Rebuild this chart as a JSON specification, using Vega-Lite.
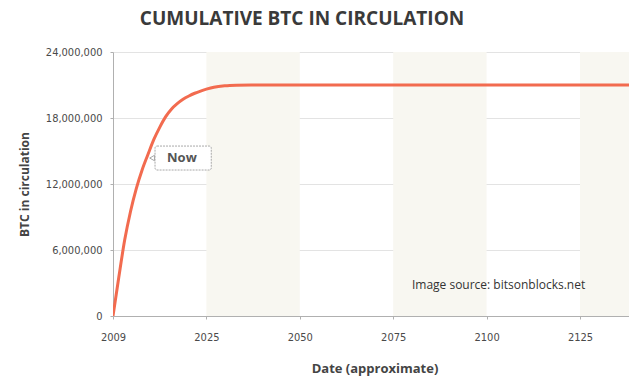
{
  "$schema": "https://vega.github.io/schema/vega-lite/v6.json",
  "autosize": "none",
  "width": 516,
  "height": 264,
  "padding": {"left": 113, "top": 52, "right": 0, "bottom": 63},
  "background": "white",
  "title": {
    "text": "CUMULATIVE BTC IN CIRCULATION",
    "fontSize": 19,
    "fontWeight": "bold",
    "font": "Open Sans",
    "color": "#3a3a3a",
    "anchor": "middle",
    "frame": "group",
    "dx": -69,
    "offset": 17
  },
  "config": {
    "view": {"stroke": null},
    "axis": {
      "labelFont": "Liberation Sans Narrow, DejaVu Sans Condensed, Roboto Condensed, sans-serif",
      "labelFontSize": 11,
      "labelColor": "#4a4a4a",
      "titleFont": "Open Sans",
      "titleColor": "#444444",
      "titleFontWeight": "bold",
      "domainColor": "#b0b0b0",
      "tickColor": "#b0b0b0",
      "tickSize": 3
    }
  },
  "datasets": {
    "supply": [
      {"year": 2009, "btc": 0},
      {"year": 2010, "btc": 3550000},
      {"year": 2011, "btc": 6900000},
      {"year": 2012, "btc": 9500000},
      {"year": 2013, "btc": 11600000},
      {"year": 2014, "btc": 13300000},
      {"year": 2015, "btc": 14700000},
      {"year": 2016, "btc": 16050000},
      {"year": 2017, "btc": 17150000},
      {"year": 2018, "btc": 18100000},
      {"year": 2019, "btc": 18800000},
      {"year": 2020, "btc": 19300000},
      {"year": 2021, "btc": 19700000},
      {"year": 2022, "btc": 20000000},
      {"year": 2023, "btc": 20250000},
      {"year": 2024, "btc": 20450000},
      {"year": 2025, "btc": 20620000},
      {"year": 2027, "btc": 20800000},
      {"year": 2030, "btc": 20930000},
      {"year": 2033, "btc": 20980000},
      {"year": 2037, "btc": 21000000},
      {"year": 2060, "btc": 21000000},
      {"year": 2080, "btc": 21000000},
      {"year": 2100, "btc": 21000000},
      {"year": 2120, "btc": 21000000},
      {"year": 2140, "btc": 21000000}
    ],
    "bands": [
      {"start": 2025, "end": 2050},
      {"start": 2075, "end": 2100},
      {"start": 2125, "end": 2140}
    ],
    "callout": [
      {"x1": 2016.2, "x2": 2026.3, "y1": 15450000, "y2": 13270000, "px": 2015.7, "py": 14360000, "tx": 2020.8, "ty": 14360000, "label": "Now"}
    ],
    "source": [
      {"year": 2103.2, "btc": 2820000, "label": "Image source: bitsonblocks.net"}
    ]
  },
  "layer": [
    {
      "data": {"name": "bands"},
      "mark": {"type": "rect", "color": "#f8f7f1", "clip": true},
      "encoding": {
        "x": {
          "field": "start", "type": "quantitative",
          "scale": {"domain": [2009, 2025, 2050, 2075, 2100, 2125, 2140], "range": [0, 93.4, 186.8, 280.2, 373.6, 467, 523], "nice": false, "zero": false},
          "axis": {
            "values": [2009, 2025, 2050, 2075, 2100, 2125],
            "format": "d",
            "grid": false,
            "labelFlush": false,
            "title": "Date (approximate)",
            "titleFontSize": 13,
            "titlePadding": 20,
            "labelPadding": 12
          }
        },
        "x2": {"field": "end"},
        "y": {
          "datum": 0, "type": "quantitative",
          "scale": {"domain": [0, 24000000], "nice": false},
          "axis": {
            "values": [0, 6000000, 12000000, 18000000, 24000000],
            "labelExpr": "format(datum.value, ',.0f')",
            "grid": true,
            "gridColor": "#e3e3e3",
            "title": "BTC in circulation",
            "titleFontSize": 12,
            "titlePadding": 14,
            "labelPadding": 8
          }
        },
        "y2": {"datum": 24000000}
      }
    },
    {
      "data": {"name": "supply"},
      "mark": {"type": "line", "color": "#f26b4f", "strokeWidth": 3, "interpolate": "monotone", "clip": true},
      "encoding": {
        "x": {"field": "year", "type": "quantitative"},
        "y": {"field": "btc", "type": "quantitative"}
      }
    },
    {
      "data": {"name": "callout"},
      "mark": {"type": "rect", "fill": "white", "stroke": "#a8a8a8", "strokeWidth": 1, "strokeDash": [2, 1], "cornerRadius": 2},
      "encoding": {
        "x": {"field": "x1", "type": "quantitative"},
        "x2": {"field": "x2"},
        "y": {"field": "y1", "type": "quantitative"},
        "y2": {"field": "y2"}
      }
    },
    {
      "data": {"name": "callout"},
      "mark": {"type": "point", "shape": "triangle-left", "filled": true, "fill": "white", "stroke": "#a8a8a8", "strokeWidth": 1, "size": 30, "opacity": 1},
      "encoding": {
        "x": {"field": "px", "type": "quantitative"},
        "y": {"field": "py", "type": "quantitative"}
      }
    },
    {
      "data": {"name": "callout"},
      "mark": {"type": "text", "font": "Open Sans", "fontSize": 13, "fontWeight": "bold", "color": "#555555", "align": "center", "baseline": "middle"},
      "encoding": {
        "x": {"field": "tx", "type": "quantitative"},
        "y": {"field": "ty", "type": "quantitative"},
        "text": {"field": "label"}
      }
    },
    {
      "data": {"name": "source"},
      "mark": {"type": "text", "font": "Open Sans", "fontSize": 12, "color": "#333333", "align": "center", "baseline": "middle"},
      "encoding": {
        "x": {"field": "year", "type": "quantitative"},
        "y": {"field": "btc", "type": "quantitative"},
        "text": {"field": "label"}
      }
    }
  ]
}
